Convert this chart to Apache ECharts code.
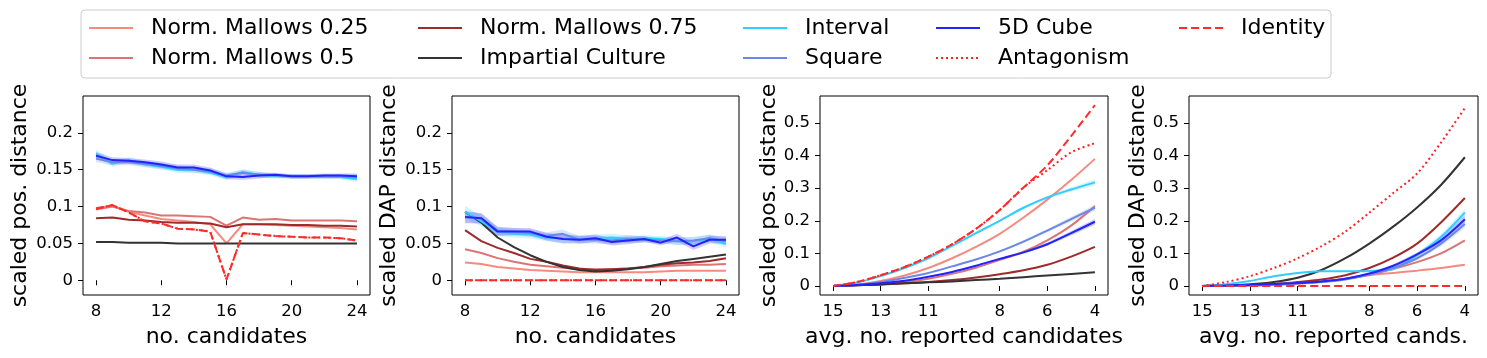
<!DOCTYPE html>
<html><head><meta charset="utf-8">
<script src="https://cdn.jsdelivr.net/npm/echarts@6/dist/echarts.min.js"></script>
<style>html,body{margin:0;padding:0;background:#fff}#c{width:1487px;height:358px}</style>
</head><body><div id="c"></div>
<script>
// ---------- data ----------
const seriesNames = ['Norm. Mallows 0.25','Norm. Mallows 0.5','Norm. Mallows 0.75','Impartial Culture','Interval','Square','5D Cube','Antagonism','Identity'];
const xCand = [8,9,10,11,12,13,14,15,16,17,18,19,20,21,22,23,24];
const xRep = [15,14,13,12,11,10,9,8,7,6,5,4];
const candTicks = [8,12,16,20,24];
const repTicks = [15,13,11,8,6,4];
const yTicksA = [0,0.05,0.1,0.15,0.2];
const yTicksB = [0,0.1,0.2,0.3,0.4,0.5];

// panel 1: scaled pos. distance vs no. candidates
const p1_nm025 = [0.098,0.101,0.093,0.088,0.083,0.081,0.079,0.076,0.050,0.076,0.076,0.075,0.074,0.073,0.072,0.071,0.069];
const p1_nm05  = [0.096,0.100,0.094,0.092,0.088,0.088,0.087,0.086,0.074,0.085,0.082,0.083,0.081,0.081,0.081,0.081,0.080];
const p1_nm075 = [0.084,0.085,0.082,0.081,0.079,0.078,0.078,0.077,0.072,0.076,0.076,0.076,0.075,0.075,0.074,0.074,0.073];
const p1_ic    = [0.052,0.052,0.051,0.051,0.051,0.050,0.050,0.050,0.050,0.050,0.050,0.050,0.050,0.050,0.050,0.050,0.050];
const p1_int   = [0.172,0.158,0.163,0.157,0.154,0.150,0.150,0.146,0.140,0.147,0.143,0.141,0.141,0.141,0.140,0.140,0.137];
const p1_sq    = [0.165,0.160,0.160,0.158,0.155,0.152,0.150,0.148,0.142,0.146,0.143,0.142,0.141,0.141,0.141,0.141,0.140];
const p1_cube  = [0.169,0.163,0.162,0.160,0.157,0.153,0.153,0.149,0.141,0.140,0.142,0.143,0.141,0.141,0.142,0.142,0.141];
const p1_ant   = [0.097,0.102,0.092,0.080,0.077,0.070,0.069,0.066,0.001,0.064,0.062,0.060,0.059,0.058,0.058,0.057,0.054];
const p1_id    = [0.097,0.102,0.092,0.080,0.077,0.070,0.069,0.066,0.001,0.064,0.062,0.060,0.059,0.058,0.058,0.057,0.054];
const p1_err   = [0.005,0.004,0.004,0.004,0.004,0.004,0.004,0.004,0.004,0.004,0.004,0.003,0.003,0.003,0.003,0.003,0.004];

// panel 2: scaled DAP distance vs no. candidates
const p2_nm025 = [0.024,0.022,0.018,0.016,0.014,0.013,0.012,0.011,0.011,0.011,0.011,0.011,0.012,0.013,0.013,0.013,0.013];
const p2_nm05  = [0.042,0.037,0.030,0.025,0.021,0.019,0.017,0.015,0.015,0.015,0.016,0.017,0.019,0.020,0.021,0.021,0.022];
const p2_nm075 = [0.068,0.053,0.044,0.037,0.029,0.025,0.020,0.016,0.014,0.015,0.016,0.018,0.021,0.023,0.024,0.026,0.030];
const p2_ic    = [0.093,0.078,0.058,0.045,0.034,0.025,0.018,0.014,0.012,0.013,0.015,0.018,0.022,0.026,0.029,0.032,0.035];
const p2_int   = [0.093,0.080,0.066,0.063,0.062,0.058,0.057,0.056,0.057,0.058,0.056,0.057,0.056,0.053,0.053,0.057,0.049];
const p2_sq    = [0.085,0.084,0.067,0.066,0.064,0.060,0.063,0.055,0.055,0.054,0.056,0.055,0.054,0.053,0.054,0.057,0.053];
const p2_cube  = [0.086,0.084,0.066,0.066,0.066,0.059,0.056,0.055,0.057,0.052,0.054,0.056,0.051,0.058,0.046,0.055,0.055];
const p2_ant   = [0,0,0,0,0,0,0,0,0,0,0,0,0,0,0,0,0];
const p2_id    = [0,0,0,0,0,0,0,0,0,0,0,0,0,0,0,0,0];
const p2_err   = [0.008,0.007,0.006,0.005,0.005,0.005,0.006,0.005,0.005,0.005,0.005,0.004,0.004,0.005,0.005,0.005,0.005];

// panel 3: scaled pos. distance vs avg. no. reported candidates
const p3_nm025 = [0,0.004,0.015,0.032,0.055,0.085,0.12,0.16,0.21,0.265,0.325,0.39];
const p3_nm05  = [0,0.002,0.006,0.012,0.022,0.037,0.056,0.08,0.105,0.14,0.185,0.245];
const p3_nm075 = [0,0.002,0.004,0.008,0.012,0.018,0.026,0.036,0.048,0.065,0.09,0.12];
const p3_ic    = [0,0.002,0.005,0.008,0.011,0.014,0.018,0.022,0.027,0.032,0.037,0.042];
const p3_int   = [0,0.01,0.03,0.055,0.085,0.123,0.162,0.2,0.24,0.272,0.296,0.318];
const p3_sq    = [0,0.004,0.012,0.025,0.04,0.06,0.081,0.106,0.136,0.17,0.205,0.24];
const p3_cube  = [0,0.003,0.008,0.016,0.028,0.043,0.062,0.083,0.103,0.128,0.162,0.197];
const p3_ant   = [0,0.012,0.033,0.058,0.09,0.128,0.175,0.233,0.302,0.355,0.41,0.438];
const p3_id    = [0,0.012,0.033,0.058,0.09,0.128,0.175,0.233,0.302,0.37,0.46,0.555];
const p3_err   = [0,0,0,0.001,0.001,0.002,0.002,0.003,0.004,0.005,0.007,0.009];

// panel 4: scaled DAP distance vs avg. no. reported cands.
const p4_nm025 = [0,0,0.001,0.003,0.007,0.013,0.022,0.033,0.04,0.047,0.055,0.065];
const p4_nm05  = [0,0.001,0.002,0.004,0.008,0.013,0.022,0.035,0.052,0.073,0.1,0.14];
const p4_nm075 = [0,0.001,0.003,0.006,0.012,0.02,0.033,0.055,0.087,0.13,0.195,0.27];
const p4_ic    = [0,0.002,0.005,0.012,0.025,0.049,0.085,0.13,0.182,0.241,0.31,0.395];
const p4_int   = [0,0.005,0.015,0.03,0.04,0.045,0.045,0.046,0.052,0.095,0.15,0.225];
const p4_sq    = [0,0.001,0.002,0.005,0.008,0.012,0.02,0.035,0.055,0.085,0.13,0.19];
const p4_cube  = [0,0.001,0.003,0.006,0.009,0.014,0.022,0.038,0.062,0.097,0.14,0.205];
const p4_ant   = [0,0.012,0.03,0.055,0.085,0.122,0.167,0.225,0.285,0.345,0.44,0.546];
const p4_id    = [0,0,0,0,0,0,0,0,0,0,0,0];
const p4_err   = [0,0,0,0,0.001,0.001,0.002,0.003,0.004,0.006,0.009,0.012];

// ---------- styles ----------
const colors = ['#f58a80','#dc7474','#9e2b2b','#333333','#33ccff','#6a88e6','#2222ff','#ff2020','#ff2a2a'];
const lineTypes = ['solid','solid','solid','solid','solid','solid','solid',[2,3],[8,4]];
const FONT = 'DejaVu Sans';

const panels = [
  {x: xCand, data: [p1_nm025,p1_nm05,p1_nm075,p1_ic,p1_int,p1_sq,p1_cube,p1_ant,p1_id], err: p1_err, smooth:false},
  {x: xCand, data: [p2_nm025,p2_nm05,p2_nm075,p2_ic,p2_int,p2_sq,p2_cube,p2_ant,p2_id], err: p2_err, smooth:false},
  {x: xRep,  data: [p3_nm025,p3_nm05,p3_nm075,p3_ic,p3_int,p3_sq,p3_cube,p3_ant,p3_id], err: p3_err, smooth:0.3},
  {x: xRep,  data: [p4_nm025,p4_nm05,p4_nm075,p4_ic,p4_int,p4_sq,p4_cube,p4_ant,p4_id], err: p4_err, smooth:0.3}
];
const bandSeries = [4,5,6]; // Interval, Square, 5D Cube carry shaded bands

const grids = [
  {left:83, top:96, width:287, height:199},
  {left:452, top:96, width:287, height:199},
  {left:820, top:96, width:288, height:199},
  {left:1189, top:96, width:289, height:199}
].map(g => Object.assign({show:true, borderColor:'#000', borderWidth:1, backgroundColor:'transparent'}, g));

const xNames = ['no. candidates','no. candidates','avg. no. reported candidates','avg. no. reported cands.'];
const yNames = ['scaled pos. distance','scaled DAP distance','scaled pos. distance','scaled DAP distance'];
const yGaps = [52,52,40,40];

const xAxes = [], yAxes = [], series = [];
panels.forEach((p, i) => {
  const rep = i >= 2;
  xAxes.push({
    type:'value', gridIndex:i,
    min: rep ? 3.45 : 7.2, max: rep ? 15.55 : 24.8, inverse: rep,
    name: xNames[i], nameLocation:'middle', nameGap: 31,
    nameTextStyle:{fontFamily:FONT, fontSize:22, color:'#000'},
    axisLine:{show:false},
    axisTick:{show:true, inside:false, length:5, lineStyle:{color:'#000'}, customValues: rep ? repTicks : candTicks},
    axisLabel:{fontFamily:FONT, fontSize:16.5, color:'#000', margin:8, customValues: rep ? repTicks : candTicks},
    splitLine:{show:false}
  });
  yAxes.push({
    type:'value', gridIndex:i,
    min: rep ? -0.0278 : -0.02, max: rep ? 0.583 : 0.25,
    name: yNames[i], nameLocation:'middle', nameGap: yGaps[i],
    nameTextStyle:{fontFamily:FONT, fontSize:22, color:'#000'},
    axisLine:{show:false},
    axisTick:{show:true, inside:false, length:5, lineStyle:{color:'#000'}, customValues: rep ? yTicksB : yTicksA},
    axisLabel:{fontFamily:FONT, fontSize:16.5, color:'#000', margin:10, customValues: rep ? yTicksB : yTicksA},
    splitLine:{show:false}
  });
  // shaded bands
  bandSeries.forEach(k => {
    const vals = p.data[k], xs = p.x, err = p.err, col = colors[k];
    series.push({
      type:'custom', name:'band-' + seriesNames[k] + '-' + i, xAxisIndex:i, yAxisIndex:i,
      data: xs.map((xv, j) => [xv, vals[j]]), encode:{x:0, y:1}, clip:true, silent:true, z:1,
      renderItem: (params, api) => {
        if (params.dataIndex !== 0) return null;
        const up = xs.map((xv, j) => api.coord([xv, vals[j] + err[j]]));
        const lo = xs.map((xv, j) => api.coord([xv, vals[j] - err[j]])).reverse();
        return {type:'polygon', shape:{points: up.concat(lo)}, style:{fill: col, opacity:0.22, stroke:null}};
      }
    });
  });
  p.data.forEach((vals, k) => {
    series.push({
      type:'line', name: seriesNames[k], xAxisIndex:i, yAxisIndex:i,
      data: p.x.map((xv, j) => [xv, vals[j]]),
      symbol:'none', smooth: p.smooth,
      lineStyle:{color: colors[k], width:2, type: lineTypes[k]},
      itemStyle:{color: colors[k]},
      z: 2 + k
    });
  });
});

const legendCols = [
  {left:88, names:[seriesNames[0], seriesNames[1]]},
  {left:417, names:[seriesNames[2], seriesNames[3]]},
  {left:742, names:[seriesNames[4], seriesNames[5]]},
  {left:935, names:[seriesNames[6], seriesNames[7]]},
  {left:1178, names:[seriesNames[8]]}
];
const legends = legendCols.map(c => ({
  orient:'vertical', left:c.left, top:17, padding:0,
  itemWidth:44, itemHeight:14, itemGap:8,
  data:c.names, selectedMode:false,
  itemStyle:{color:'rgba(0,0,0,0)', borderWidth:0, opacity:0},
  textStyle:{fontFamily:FONT, fontSize:22, color:'#000', lineHeight:22, padding:[0,0,0,13]}
}));

const chart = echarts.init(document.getElementById('c'), null, {renderer:'canvas'});
chart.setOption({
  animation:false,
  backgroundColor:'#fff',
  graphic:[{type:'rect', shape:{x:81, y:10, width:1250, height:68, r:4}, style:{fill:'#fff', stroke:'#cccccc', lineWidth:1}, z:-1}],
  legend: legends,
  grid: grids,
  xAxis: xAxes,
  yAxis: yAxes,
  series: series
});
</script></body></html>
